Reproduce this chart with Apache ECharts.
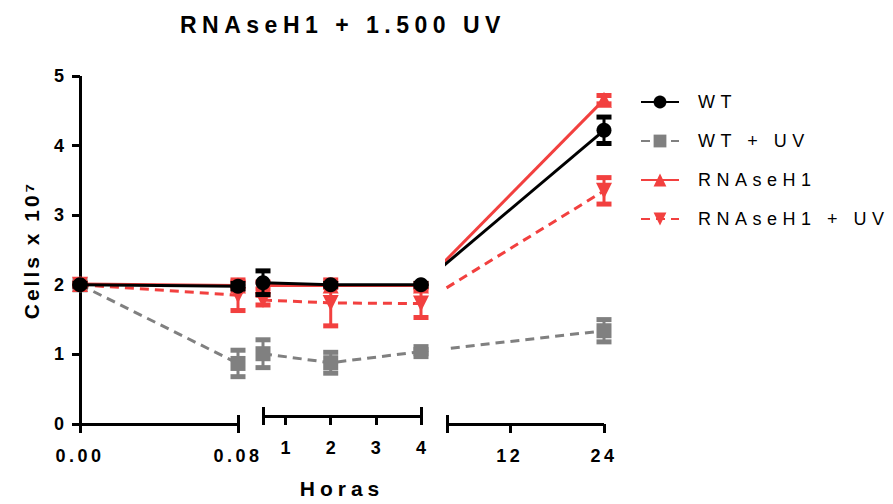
<!DOCTYPE html>
<html>
<head>
<meta charset="utf-8">
<script src="https://cdn.jsdelivr.net/npm/echarts@6/dist/echarts.min.js"></script>
<style>
  html, body { margin: 0; padding: 0; background: #fff; }
  #chart { width: 893px; height: 504px; }
</style>
</head>
<body>
<div id="chart"></div>
<script>
// Sampling times (hours) and mean cell counts (x 10^7) with error bars
const hours = [0, 0.08, 0.5, 2, 4, 24];

const wt         = [2.00, 1.98, 2.03, 2.00, 2.00, 4.22];
const wtErr      = [0.02, 0.04, 0.17, 0.02, 0.02, 0.19];
const wtUv       = [2.00, 0.87, 1.01, 0.88, 1.04, 1.34];
const wtUvErr    = [0.02, 0.19, 0.20, 0.15, 0.03, 0.16];
const rnase      = [2.01, 1.99, 1.99, 1.99, 1.99, 4.66];
const rnaseErr   = [0.02, 0.05, 0.05, 0.03, 0.03, 0.06];
const rnaseUv    = [2.00, 1.85, 1.78, 1.74, 1.73, 3.35];
const rnaseUvErr = [0.02, 0.22, 0.07, 0.33, 0.20, 0.19];

const seriesNames = ['WT', 'WT + UV', 'RNAseH1', 'RNAseH1 + UV'];

// Broken x axis: three segments, each with its own linear scale
const segTickValues  = [[0, 0.08], [0.5, 1, 2, 3, 4], [4, 12, 24]];
const segLabelValues = [[0, 0.08], [1, 2, 3, 4], [12, 24]];
const segCapValues   = [[0.08], [0.5, 4], [4]];
const yTicks = [0, 1, 2, 3, 4, 5];

const segments = [
  { from: 0,   to: 0.08, left: 80,  width: 158 },
  { from: 0.5, to: 4,    left: 263, width: 158 },
  { from: 4,   to: 24,   left: 447, width: 157 }
];
const plotLeft = 80, plotTop = 76, plotHeight = 348, plotWidth = 524;

const FONT = '"Liberation Sans", Arial, Helvetica, sans-serif';
const RED = '#f2403f', GRAY = '#808080', BLACK = '#000000';

// position of a time point along the broken axis (in plot units)
function segIndex(t) {
  return segments.findIndex(s => t >= s.from && t <= s.to);
}
function axisPos(t) {
  const s = segments[segIndex(t)];
  return s.left - plotLeft + (t - s.from) / (s.to - s.from) * s.width;
}

const groups = [
  { name: seriesNames[1], values: wtUv,    errors: wtUvErr,    color: GRAY,  dash: [9, 6], symbol: 'rect',     size: 15, rotate: 0,   z: 2 },
  { name: seriesNames[3], values: rnaseUv, errors: rnaseUvErr, color: RED,   dash: [9, 6], symbol: 'triangle', size: 16, rotate: 180, z: 3 },
  { name: seriesNames[2], values: rnase,   errors: rnaseErr,   color: RED,   dash: null,   symbol: 'triangle', size: 16, rotate: 0,   z: 4 },
  { name: seriesNames[0], values: wt,      errors: wtErr,      color: BLACK, dash: null,   symbol: 'circle',   size: 15, rotate: 0,   z: 5 }
];

const grids = [];
const xAxes = [];
const yAxes = [];

segments.forEach((s, k) => {
  grids.push({ left: s.left, width: s.width, top: plotTop, height: plotHeight, containLabel: false });
  xAxes.push({
    type: 'value', gridIndex: k, min: s.from, max: s.to, position: 'bottom',
    axisLine: { show: true, onZero: false, lineStyle: { color: BLACK, width: 3, cap: 'butt' } },
    axisTick: { show: true, customValues: segTickValues[k], length: 9, lineStyle: { color: BLACK, width: 3 } },
    axisLabel: {
      show: true, customValues: segLabelValues[k], margin: 23,
      formatter: v => k === 0 ? Number(v).toFixed(2) : String(v),
      color: BLACK, fontSize: 18, fontWeight: 'bold', fontFamily: FONT
    },
    splitLine: { show: false },
    name: k === 1 ? 'Horas' : '',
    nameLocation: 'middle', nameGap: 62,
    nameTextStyle: { color: BLACK, fontSize: 21, fontWeight: 'bold', fontFamily: FONT }
  });
  // upper half of the break caps
  xAxes.push({
    type: 'value', gridIndex: k, min: s.from, max: s.to, position: 'bottom',
    axisLine: { show: false, onZero: false },
    axisTick: { show: true, inside: true, customValues: segCapValues[k], length: 9, lineStyle: { color: BLACK, width: 3 } },
    axisLabel: { show: false },
    splitLine: { show: false }
  });
  yAxes.push({ type: 'value', gridIndex: k, min: 0, max: 5, show: false });
});

// data layer spanning the whole axis
grids.push({ left: plotLeft, width: plotWidth, top: plotTop, height: plotHeight });
xAxes.push({ type: 'value', gridIndex: 3, min: 0, max: plotWidth, show: false });
yAxes.push({
  type: 'value', gridIndex: 3, min: 0, max: 5, interval: 1,
  axisLine: { show: true, lineStyle: { color: BLACK, width: 3, cap: 'butt' } },
  axisTick: { show: true, customValues: yTicks, length: 8, lineStyle: { color: BLACK, width: 3 } },
  axisLabel: { color: BLACK, fontSize: 18, fontWeight: 'bold', fontFamily: FONT, margin: 16 },
  splitLine: { show: false },
  name: 'Cells x 10\u2077', nameLocation: 'middle', nameGap: 38, nameRotate: 90,
  nameTextStyle: { color: BLACK, fontSize: 21, fontWeight: 'bold', fontFamily: FONT }
});

// last segment layer: lines crossing the gap are clipped at its edge
const s3 = segments[2];
grids.push({ left: s3.left, width: s3.width, top: plotTop, height: plotHeight });
xAxes.push({ type: 'value', gridIndex: 4, min: s3.left - plotLeft, max: s3.left - plotLeft + s3.width, show: false });
yAxes.push({ type: 'value', gridIndex: 4, min: 0, max: 5, show: false });

const series = [];
groups.forEach(g => {
  const lineStyle = { color: g.color, width: 3, type: g.dash ? g.dash : 'solid' };
  // error bars
  series.push({
    type: 'custom', xAxisIndex: 6, yAxisIndex: 3, z: g.z, silent: true,
    data: hours.map((h, i) => [axisPos(h), g.values[i], g.errors[i]]),
    encode: { x: 0, y: 1 },
    renderItem: (params, api) => {
      const x = api.value(0), y = api.value(1), e = api.value(2);
      const hi = api.coord([x, y + e]);
      const lo = api.coord([x, y - e]);
      const half = 7.5;
      return {
        type: 'group',
        children: [
          { type: 'line', shape: { x1: hi[0], y1: hi[1], x2: lo[0], y2: lo[1] }, style: { stroke: g.color, lineWidth: 3 } },
          { type: 'line', shape: { x1: hi[0] - half, y1: hi[1], x2: hi[0] + half, y2: hi[1] }, style: { stroke: g.color, lineWidth: 5 } },
          { type: 'line', shape: { x1: lo[0] - half, y1: lo[1], x2: lo[0] + half, y2: lo[1] }, style: { stroke: g.color, lineWidth: 5 } }
        ]
      };
    }
  });
  // points and in-segment lines
  const data = [];
  hours.forEach((h, i) => {
    if (i > 0 && segIndex(h) !== segIndex(hours[i - 1])) data.push([axisPos(hours[i - 1]), '-']);
    data.push([axisPos(h), g.values[i]]);
  });
  series.push({
    name: g.name, type: 'line', xAxisIndex: 6, yAxisIndex: 3, z: g.z,
    data, connectNulls: false, clip: false,
    symbol: g.symbol, symbolSize: g.size, symbolRotate: g.rotate, showSymbol: true,
    itemStyle: { color: g.color, borderWidth: 0 },
    lineStyle, animation: false
  });
});
groups.forEach(g => {
  // segment from 4 h to 24 h, clipped to the last axis segment
  const i4 = hours.indexOf(4), i24 = hours.indexOf(24);
  series.push({
    name: g.name, type: 'line', xAxisIndex: 7, yAxisIndex: 4, z: g.z - 0.5,
    data: [[axisPos(hours[i4]), g.values[i4]], [axisPos(hours[i24]), g.values[i24]]],
    clip: true, symbol: 'none', silent: true,
    lineStyle: { color: g.color, width: 3, type: g.dash ? g.dash : 'solid' }
  });
});

const dom = document.getElementById('chart');
const chart = echarts.init(dom, null, { renderer: 'svg' });

chart.setOption({
  animation: false,
  backgroundColor: '#ffffff',
  title: {
    text: 'RNAseH1 + 1.500 UV', left: 180, top: 13, padding: 0,
    textStyle: { color: BLACK, fontSize: 23, fontWeight: 'bold', fontFamily: FONT }
  },
  legend: {
    orient: 'vertical', left: 635, top: 88, itemWidth: 38, itemHeight: 16, itemGap: 21,
    data: seriesNames, selectedMode: false,
    textStyle: { color: BLACK, fontSize: 18, fontFamily: FONT, padding: [0, 0, 0, 14], lineHeight: 14 }
  },
  grid: grids,
  xAxis: xAxes,
  yAxis: yAxes,
  series
});

// tracked lettering
const tracking = {
  'RNAseH1 + 1.500 UV': 5.5, 'Horas': 5, 'Cells x 10\u2077': 3,
  '0.00': 3.5, '0.08': 3.5, '12': 3.5, '24': 3.5,
  'WT': 5.5, 'WT + UV': 5.5, 'RNAseH1': 5.5, 'RNAseH1 + UV': 5.5
};
function applyTracking() {
  dom.querySelectorAll('text').forEach(t => {
    const s = tracking[t.textContent];
    if (s) t.setAttribute('letter-spacing', s);
  });
}
applyTracking();
chart.on('finished', applyTracking);
</script>
</body>
</html>
